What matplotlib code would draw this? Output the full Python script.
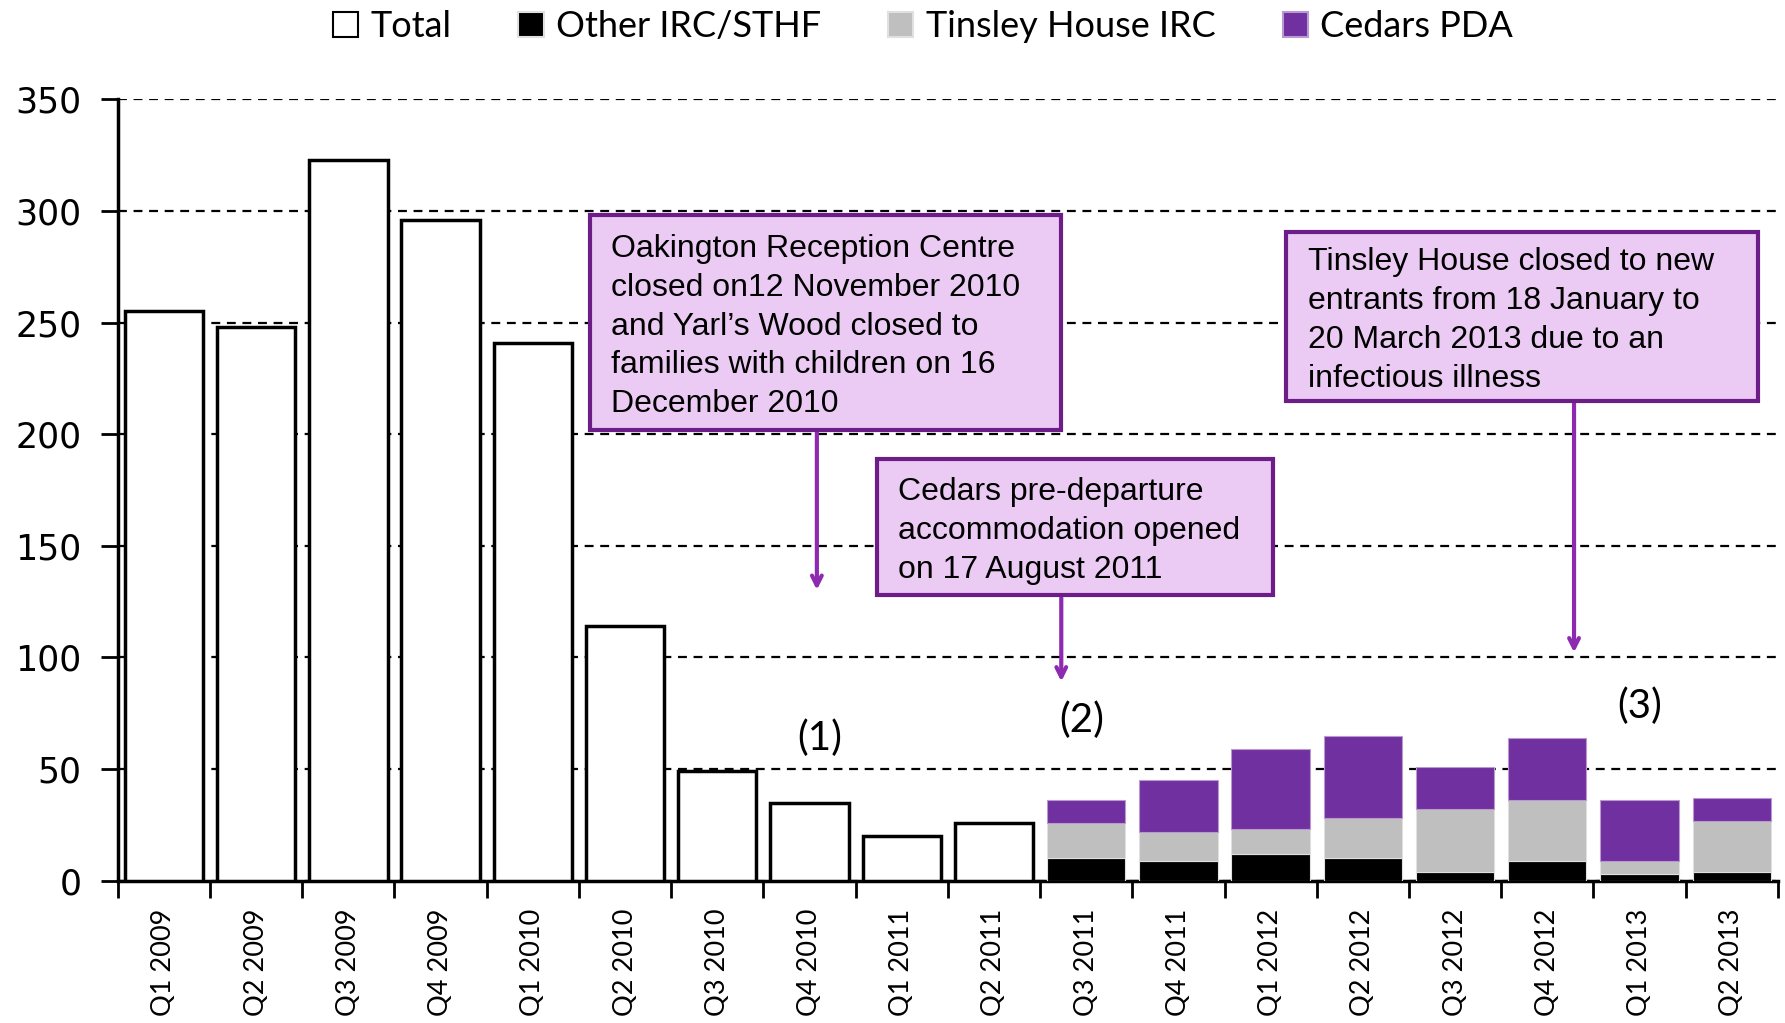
import matplotlib.pyplot as plt
from matplotlib.patches import Rectangle
import numpy as np

quarters = ['Q1 2009', 'Q2 2009', 'Q3 2009', 'Q4 2009', 'Q1 2010', 'Q2 2010',
            'Q3 2010', 'Q4 2010', 'Q1 2011', 'Q2 2011', 'Q3 2011', 'Q4 2011',
            'Q1 2012', 'Q2 2012', 'Q3 2012', 'Q4 2012', 'Q1 2013', 'Q2 2013']

# Total only reported up to Q2 2011, split by site afterwards
total = [255, 248, 323, 296, 241, 114, 49, 35, 20, 26]
other_irc = [10, 9, 12, 10, 4, 9, 3, 4]
tinsley = [16, 13, 11, 18, 28, 27, 6, 23]
cedars = [10, 23, 36, 37, 19, 28, 27, 10]

purple = '#7030A0'
grey = '#BFBFBF'
box_fill = '#EBCBF4'
box_edge = '#6C1D87'
arrow_col = '#8E2AB0'

fig = plt.figure(figsize=(17.85, 10.23), dpi=100)
ax = fig.add_axes([0.066, 0.139, 0.93, 0.764])

x = np.arange(len(quarters))
w = 0.85
x_tot = x[:len(total)]
x_split = x[len(total):]

ax.bar(x_tot, total, w, color='white', edgecolor='black', linewidth=2.5, zorder=3, label='Total')
ax.bar(x_split, other_irc, w, color='black', edgecolor='#E0E0E0', linewidth=0.8, zorder=3,
       label='Other IRC/STHF')
b2 = np.array(other_irc)
ax.bar(x_split, tinsley, w, bottom=b2, color=grey, edgecolor='#E0E0E0', linewidth=0.8, zorder=3,
       label='Tinsley House IRC')
b3 = b2 + np.array(tinsley)
ax.bar(x_split, cedars, w, bottom=b3, color=purple, edgecolor='#B99ACF', linewidth=0.8, zorder=3,
       label='Cedars PDA')

ax.set_xlim(-0.5, len(quarters) - 0.5)
ax.set_ylim(0, 350)
ax.set_yticks(range(0, 351, 50))
ax.yaxis.grid(True, linestyle=(0, (4, 3)), color='black', linewidth=1.6, zorder=0)

# tick marks sit between the quarters, labels in the middle
ax.set_xticks(np.arange(-0.5, len(quarters), 1.0))
ax.set_xticklabels([])
ax.set_xticks(x, minor=True)
ax.set_xticklabels(quarters, minor=True, rotation=90, fontsize=19.5, family='Lato')
ax.tick_params(axis='x', which='major', length=12, width=2, direction='out')
ax.tick_params(axis='x', which='minor', length=0, pad=20)
ax.tick_params(axis='y', length=12, width=2, direction='out', labelsize=25, pad=14)

for s in ['top', 'right']:
    ax.spines[s].set_visible(False)
for s in ['left', 'bottom']:
    ax.spines[s].set_linewidth(2.5)

leg = ax.legend(loc='lower center', bbox_to_anchor=(0.485, 1.03), ncol=4, frameon=False,
                prop={'family': 'Lato', 'size': 26}, handlelength=0.7, handleheight=0.7,
                columnspacing=1.85, handletextpad=0.35)
for h in leg.legend_handles:
    h.set_linewidth(1.5)

# annotation boxes: (x0, x1, y_bottom, y_top, text x, text)
boxes = [
    (4.62, 9.73, 202, 298, 4.85,
     'Oakington Reception Centre\nclosed on12 November 2010\nand Yarl\u2019s Wood closed to\n'
     'families with children on 16\nDecember 2010'),
    (7.73, 12.03, 128, 189, 7.96,
     'Cedars pre-departure\naccommodation opened\non 17 August 2011'),
    (12.17, 17.28, 215, 290.5, 12.40,
     'Tinsley House closed to new\nentrants from 18 January to\n20 March 2013 due to an\ninfectious illness'),
]
for x0, x1, y0, y1, tx, txt in boxes:
    ax.add_patch(Rectangle((x0, y0), x1 - x0, y1 - y0, facecolor=box_fill, edgecolor=box_edge,
                           linewidth=3, zorder=5, clip_on=False))
    ax.text(tx, (y0 + y1) / 2 - 1.8, txt, ha='left', va='center', fontsize=23,
            family='Liberation Sans', linespacing=1.38, zorder=6)

arrows = [(7.08, 202, 129), (9.73, 128, 88), (15.29, 215, 101)]
for ax_x, y_from, y_to in arrows:
    ax.annotate('', xy=(ax_x, y_to), xytext=(ax_x, y_from),
                arrowprops=dict(arrowstyle='->,head_length=0.7,head_width=0.35',
                                color=arrow_col, lw=3), zorder=4)

notes = [(7.11, 64, '(1)'), (9.95, 72, '(2)'), (16.0, 78, '(3)')]
for nx, ny, nt in notes:
    ax.text(nx, ny, nt, ha='center', va='center', fontsize=29, family='Lato')

fig.savefig('out.png', dpi=100)
